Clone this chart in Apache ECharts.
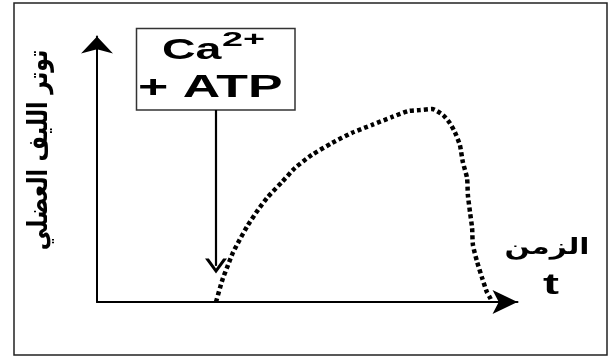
<!DOCTYPE html>
<html>
<head>
<meta charset="utf-8">
<script src="https://cdn.jsdelivr.net/npm/echarts@6/dist/echarts.min.js"></script>
<style>
  html, body { margin: 0; padding: 0; background: #fff; }
  #main { width: 613px; height: 358px; }
</style>
</head>
<body>
<div id="main"></div>
<script>
// time (x) and muscle fibre tension (y), arbitrary units 0-100
var timeVals = [28.3, 29.25, 29.96, 31.15, 32.3, 33.5, 35.9, 38.3, 40.6, 44.0, 47.1, 51.1, 55.9, 60.6, 65.4, 70.2, 74.0, 76.8, 79.7, 82.3, 83.9, 85.1, 86.3, 87.0, 88.0, 88.2, 88.7, 89.2, 89.4, 90.4, 91.6, 92.7, 93.5, 93.9];
var tensionVals = [0, 5.3, 9.0, 13.9, 18.5, 22.2, 29.0, 34.7, 39.5, 45.2, 50.5, 55.4, 59.9, 63.7, 66.7, 69.7, 71.9, 72.3, 72.7, 70.4, 67.4, 64.0, 59.1, 52.7, 46.7, 40.3, 33.9, 27.9, 21.5, 15.1, 9.0, 3.8, 1.5, 0];

// stimulus arrow (Ca2+ + ATP added)
var stimulusX = 28.3;
var stimulusFrom = 72.3;
var stimulusTo = 13.6;

var yLabel = 'توتر الليف العضلي';
var xLabel = 'الزمن';

var points = timeVals.map(function (t, i) {
  return [t, tensionVals[i]];
});

var chart = echarts.init(document.getElementById('main'));

var option = {
  animation: false,
  grid: { left: 97, right: 95.5, top: 36.5, bottom: 56 },
  xAxis: {
    type: 'value',
    min: 0,
    max: 100,
    axisLine: {
      show: true,
      symbol: ['none', 'arrow'],
      symbolSize: [18, 25],
      lineStyle: { color: '#000', width: 2 }
    },
    axisTick: { show: false },
    axisLabel: { show: false },
    splitLine: { show: false }
  },
  yAxis: {
    type: 'value',
    min: 0,
    max: 100,
    axisLine: {
      show: true,
      symbol: ['none', 'arrow'],
      symbolSize: [24, 17],
      lineStyle: { color: '#000', width: 2 }
    },
    axisTick: { show: false },
    axisLabel: { show: false },
    splitLine: { show: false }
  },
  series: [
    {
      type: 'line',
      data: points,
      showSymbol: false,
      smooth: 0.2,
      lineStyle: { color: '#000', width: 4.5, type: [4, 3], cap: 'butt' },
      markLine: {
        silent: true,
        symbol: ['none', 'path://M0,14 L10,0 L20,14 L16.5,14 L10,4.5 L3.5,14 Z'],
        symbolSize: [22, 15],
        label: { show: false },
        lineStyle: { color: '#000', width: 2.2, type: 'solid' },
        data: [
          [
            { coord: [stimulusX, stimulusFrom] },
            { coord: [stimulusX, stimulusTo] }
          ]
        ]
      }
    }
  ],
  graphic: [
    {
      type: 'rect',
      shape: { x: 14, y: 3, width: 593, height: 352 },
      style: { fill: 'none', stroke: '#222', lineWidth: 1.5 }
    },
    {
      type: 'rect',
      shape: { x: 136.5, y: 28.5, width: 158.5, height: 81.5 },
      style: { fill: '#fff', stroke: '#333', lineWidth: 1.5 }
    },
    {
      type: 'text',
      x: 162, y: 51, scaleX: 1.55,
      style: { text: 'Ca', font: 'bold 30px "Liberation Sans", Arial', fill: '#000', textAlign: 'left', textVerticalAlign: 'middle' }
    },
    {
      type: 'text',
      x: 222, y: 40, scaleX: 1.8,
      style: { text: '2+', font: 'bold 21px "Liberation Sans", Arial', fill: '#000', textAlign: 'left', textVerticalAlign: 'middle' }
    },
    {
      type: 'text',
      x: 138, y: 88.5, scaleX: 1.62,
      style: { text: '+ ATP', font: 'bold 32px "Liberation Sans", Arial', fill: '#000', textAlign: 'left', textVerticalAlign: 'middle' }
    },
    {
      type: 'text',
      x: 40, y: 150, rotation: Math.PI / 2, scaleY: 1.25,
      style: { text: yLabel, font: 'bold 22px "DejaVu Sans"', fill: '#000', textAlign: 'center', textVerticalAlign: 'middle' }
    },
    {
      type: 'text',
      x: 547, y: 248, scaleX: 1.35,
      style: { text: xLabel, font: 'bold 22px "DejaVu Sans"', fill: '#000', textAlign: 'center', textVerticalAlign: 'middle' }
    },
    {
      type: 'text',
      x: 551, y: 286, scaleX: 1.6,
      style: { text: 't', font: 'bold 30px "Liberation Sans", Arial', fill: '#000', textAlign: 'center', textVerticalAlign: 'middle' }
    }
  ]
};

chart.setOption(option);
</script>
</body>
</html>
